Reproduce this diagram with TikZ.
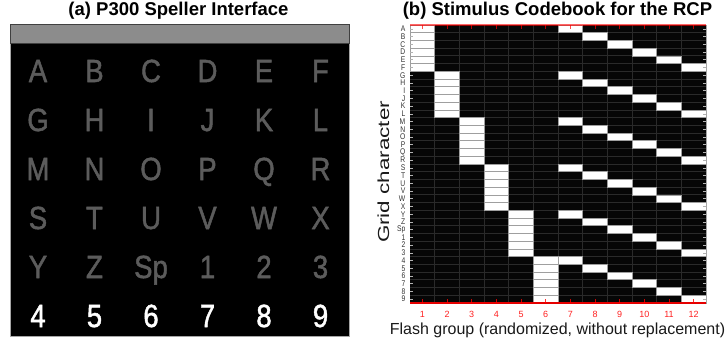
\documentclass[tikz,border=0pt]{standalone}
\usepackage{fontspec}
\usepackage{graphicx}
\setmainfont{Liberation Sans}
\newfontfamily\spkfont[FakeBold=1.6]{Liberation Sans}
\definecolor{lettergray}{HTML}{5C5C5C}
\definecolor{bargray}{HTML}{8C8C8C}
\definecolor{cbgrid}{HTML}{2A2A2A}
\definecolor{cbbg}{HTML}{060606}
\definecolor{labgray}{HTML}{333333}
\definecolor{axred}{HTML}{FF2020}
\begin{document}
\begin{tikzpicture}[x=1pt,y=-1pt,
  ptitle/.style={font=\fontsize{18.5}{20}\selectfont\bfseries, inner sep=0pt},
  spk/.style={font=\spkfont\fontsize{32}{32}\selectfont, anchor=base, inner sep=0pt},
  ylab/.style={anchor=east, font=\fontsize{7.5}{7.5}\selectfont, text=labgray, inner sep=0pt},
  xlab/.style={font=\fontsize{9}{9}\selectfont, text=axred, inner sep=0pt},
  cell/.style={fill=white, draw=gray!75, line width=0.7pt},
  axtitle/.style={font=\fontsize{16}{16}\selectfont, text=black!90, inner sep=0pt}]
\useasboundingbox (0,0) rectangle (727,345);

% ---------- (a) speller ----------
\node[ptitle] (ta) at (178.5,10.5) {(a) P300 Speller Interface};
\path[fill=black, draw=gray!70, line width=0.8pt] (10,24) rectangle (349,336);
\path[fill=bargray, draw=gray!50!black, line width=0.6pt] (10,24) rectangle (349,43);
\foreach \t [count=\i from 0] in {A,B,C,D,E,F,G,H,I,J,K,L,M,N,O,P,Q,R,S,T,U,V,W,X,Y,Z,Sp,1,2,3,4,5,6,7,8,9}{
  \pgfmathtruncatemacro\cc{mod(\i,6)}
  \pgfmathtruncatemacro\rr{div(\i,6)}
  \ifnum\rr=5 \def\lc{white}\else\def\lc{lettergray}\fi
  \node[spk, text=\lc] (s\i) at ({38+56.5*\cc},{82+49*\rr}) {\scalebox{0.86}[1]{\t}};
}

% ---------- (b) codebook ----------
\node[ptitle] (tb) at (557.5,10.5) {(b) Stimulus Codebook for the RCP};
\def\cw{24.6667}
\def\rh{7.7222}
\path[fill=cbbg] (410,25) rectangle (706,303);
\foreach \c in {1,...,11}{
  \draw[cbgrid, line width=0.8pt] ({410+\c*\cw},25) -- ({410+\c*\cw},303);
}
\foreach \r in {1,...,35}{
  \draw[cbgrid, line width=0.8pt] (410,{25+\r*\rh}) -- (706,{25+\r*\rh});
}
\foreach \k in {1,...,6}{
  \foreach \m in {1,...,6}{
    \pgfmathtruncatemacro\rw{6*(\k-1)+\m}
    \pgfmathtruncatemacro\cl{6+\m}
    \draw[cell] ({410+(\k-1)*\cw},{25+(\rw-1)*\rh}) rectangle ++(\cw,\rh);
    \draw[cell] ({410+(\cl-1)*\cw},{25+(\rw-1)*\rh}) rectangle ++(\cw,\rh);
  }
}
% row ticks
\foreach \r in {1,...,36}{
  \draw[gray!60, line width=0.6pt] (410,{25+(\r-0.5)*\rh}) -- (413,{25+(\r-0.5)*\rh});
  \draw[gray!60, line width=0.6pt] (706,{25+(\r-0.5)*\rh}) -- (703,{25+(\r-0.5)*\rh});
}
\draw[gray!70, line width=0.8pt] (706,25) -- (706,303);
% top and bottom red axes
\draw[red, opacity=0.6, line width=1.6pt] (410,25) -- (706,25);
\draw[red!90!black, line width=1.2pt] (410,303) -- (706,303);
\foreach \c in {1,...,12}{
  \draw[red, opacity=0.7, line width=1pt] ({410+(\c-0.5)*\cw},25) -- ({410+(\c-0.5)*\cw},29.5);
  \draw[red, opacity=0.8, line width=1pt] ({410+(\c-0.5)*\cw},303) -- ({410+(\c-0.5)*\cw},298.5);
  \node[xlab] (x\c) at ({410+(\c-0.5)*\cw},314) {\c};
}
% row labels
\foreach \t [count=\i] in {A,B,C,D,E,F,G,H,I,J,K,L,M,N,O,P,Q,R,S,T,U,V,W,X,Y,Z,Sp,1,2,3,4,5,6,7,8,9}{
  \node[ylab] (y\i) at (405.5,{25+(\i-0.5)*\rh}) {\scalebox{0.9}[1.1]{\t}};
}
% axis titles
\node[axtitle, rotate=90] (ay) at (383.5,172) {\scalebox{1.4}[1]{Grid character}};
\node[axtitle] (ax) at (557.5,330) {Flash group (randomized, without replacement)};
\end{tikzpicture}
\end{document}
